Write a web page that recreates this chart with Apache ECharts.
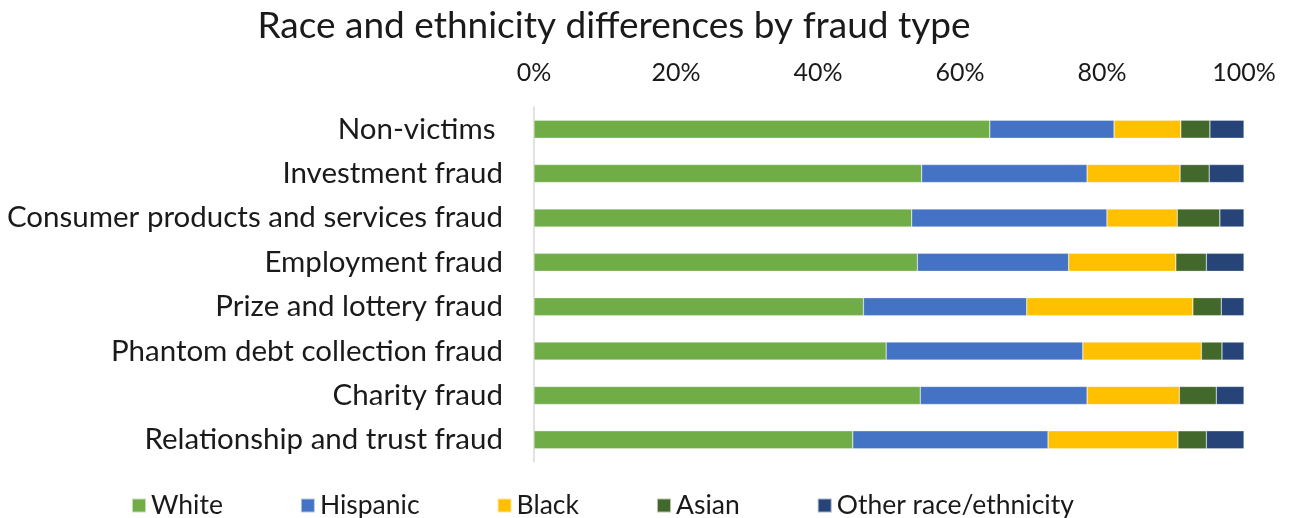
<!DOCTYPE html>
<html>
<head>
<meta charset="utf-8">
<script src="https://cdn.jsdelivr.net/npm/echarts@6/dist/echarts.min.js"></script>
<style>
  html, body { margin: 0; padding: 0; background: #fff; }
  #chart { width: 1293px; height: 518px; }
</style>
</head>
<body>
<div id="chart"></div>
<script>
// fraud types, top to bottom
const categories = [
  'Non-victims ',
  'Investment fraud',
  'Consumer products and services fraud',
  'Employment fraud',
  'Prize and lottery fraud',
  'Phantom debt collection fraud',
  'Charity fraud',
  'Relationship and trust fraud'
];

// share of each group, percent
const white    = [64.2, 54.6, 53.2, 54.0, 46.4, 49.6, 54.4, 44.9];
const hispanic = [17.5, 23.3, 27.5, 21.3, 23.0, 27.7, 23.5, 27.5];
const black    = [ 9.4, 13.1,  9.9, 15.1, 23.4, 16.7, 13.0, 18.3];
const asian    = [ 4.1,  4.1,  6.0,  4.3,  4.0,  2.9,  5.2,  4.0];
const other    = [ 4.8,  4.9,  3.4,  5.3,  3.2,  3.1,  3.9,  5.3];

const xTicks = [0, 20, 40, 60, 80, 100];

const FONT = 'Lato';

const chart = echarts.init(document.getElementById('chart'), null, { renderer: 'canvas' });

function bar(name, data, color) {
  return {
    name: name,
    type: 'bar',
    stack: 'total',
    data: data,
    barWidth: 18,
    itemStyle: { color: color, borderColor: 'rgba(255,255,255,0.6)', borderWidth: 0.5 },
    emphasis: { disabled: true }
  };
}

chart.setOption({
  backgroundColor: '#FFFFFF',
  animation: false,
  title: {
    text: 'Race and ethnicity differences by fraud type',
    left: 609,
    top: 3,
    textAlign: 'center',
    textStyle: { fontFamily: FONT, fontSize: 37, fontWeight: 'normal', color: '#1a1a1a' }
  },
  legend: {
    top: 487,
    left: 126,
    itemWidth: 14,
    itemHeight: 14,
    itemGap: 77,
    icon: 'rect',
    textStyle: { fontFamily: FONT, fontSize: 26.5, color: '#1a1a1a' }
  },
  grid: { left: 534, right: 49, top: 107, bottom: 56, containLabel: false },
  xAxis: {
    type: 'value',
    position: 'top',
    min: xTicks[0],
    max: xTicks[xTicks.length - 1],
    interval: 20,
    axisLine: { show: false },
    axisTick: { show: false },
    splitLine: { show: false },
    axisLabel: {
      formatter: '{value}%',
      margin: 22,
      fontFamily: FONT,
      fontSize: 25,
      color: '#1a1a1a'
    }
  },
  yAxis: {
    type: 'category',
    data: categories,
    inverse: true,
    axisLine: { show: true, lineStyle: { color: '#d9d9d9', width: 1.5 } },
    axisTick: { show: false },
    axisLabel: {
      margin: 31,
      fontFamily: FONT,
      fontSize: 29.5,
      color: '#1a1a1a'
    }
  },
  series: [
    bar('White', white, '#70AD47'),
    bar('Hispanic', hispanic, '#4472C4'),
    bar('Black', black, '#FFC000'),
    bar('Asian', asian, '#43682B'),
    bar('Other race/ethnicity', other, '#264478')
  ]
});
</script>
</body>
</html>
